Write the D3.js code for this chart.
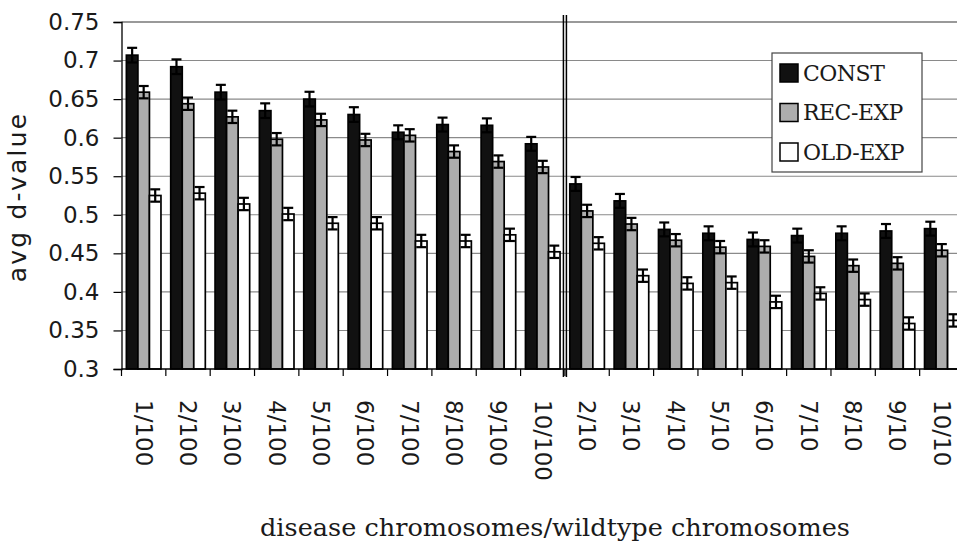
<!DOCTYPE html>
<html>
<head>
<meta charset="utf-8">
<script src="https://cdn.jsdelivr.net/npm/d3@7"></script>
<style>
  body { margin: 0; background: #fff; }
  svg { display: block; }
</style>
</head>
<body>
<script>
var categories = ["1/100", "2/100", "3/100", "4/100", "5/100", "6/100", "7/100", "8/100", "9/100", "10/100",
	"2/10", "3/10", "4/10", "5/10", "6/10", "7/10", "8/10", "9/10", "10/10"];
var seriesNames = ["CONST", "REC-EXP", "OLD-EXP"];
var constVals = [0.707, 0.692, 0.659, 0.635, 0.650, 0.630, 0.607, 0.617, 0.616, 0.592,
	0.540, 0.518, 0.481, 0.476, 0.468, 0.473, 0.476, 0.479, 0.482];
var recVals = [0.659, 0.644, 0.627, 0.598, 0.623, 0.597, 0.603, 0.582, 0.569, 0.562,
	0.505, 0.488, 0.467, 0.458, 0.459, 0.446, 0.434, 0.437, 0.454];
var oldVals = [0.525, 0.528, 0.514, 0.501, 0.489, 0.489, 0.466, 0.466, 0.474, 0.452,
	0.463, 0.421, 0.411, 0.412, 0.387, 0.398, 0.390, 0.359, 0.363];
var constErr = [0.0095, 0.0095, 0.0095, 0.0095, 0.0095, 0.0095, 0.009, 0.009, 0.009, 0.009,
	0.009, 0.009, 0.009, 0.009, 0.009, 0.009, 0.009, 0.009, 0.009];
var recErr = [0.008, 0.008, 0.008, 0.008, 0.008, 0.008, 0.008, 0.008, 0.008, 0.008,
	0.008, 0.008, 0.008, 0.008, 0.008, 0.008, 0.008, 0.008, 0.008];
var oldErr = [0.008, 0.008, 0.008, 0.008, 0.008, 0.008, 0.008, 0.008, 0.008, 0.008,
	0.008, 0.008, 0.008, 0.008, 0.008, 0.008, 0.008, 0.008, 0.008];
var yTicks = [0.3, 0.35, 0.4, 0.45, 0.5, 0.55, 0.6, 0.65, 0.7, 0.75];

var fills = ["#111", "#adadad", "#fff"];

var w = 957, h = 542;
var plotLeft = 121.5, plotRight = 964, plotTop = 22, plotBottom = 369;

var svg = d3.select("body").append("svg")
	.attr("width", w)
	.attr("height", h)
	.style("overflow", "hidden");

var x0 = d3.scaleBand().domain(categories).range([plotLeft, plotRight]).paddingInner(0.22).paddingOuter(0.11);
var x1 = d3.scaleBand().domain(seriesNames).range([0, x0.bandwidth()]);
var y = d3.scaleLinear().domain([0.3, 0.75]).range([plotBottom, plotTop]);

var rows = categories.map(function (c, i) {
	return {
		cat: c,
		vals: [
			{ s: "CONST", v: constVals[i], e: constErr[i], f: fills[0] },
			{ s: "REC-EXP", v: recVals[i], e: recErr[i], f: fills[1] },
			{ s: "OLD-EXP", v: oldVals[i], e: oldErr[i], f: fills[2] }
		]
	};
});

// gridlines
svg.append("g").selectAll("line")
	.data(yTicks.slice(1))
	.enter().append("line")
	.attr("x1", plotLeft).attr("x2", plotRight)
	.attr("y1", function (d) { return y(d); })
	.attr("y2", function (d) { return y(d); })
	.attr("stroke", function (d) { return d === 0.75 ? "#777" : "#8a8a8a"; })
	.attr("stroke-width", function (d) { return d === 0.75 ? 1.6 : 1.1; });

// bars
var groups = svg.append("g").selectAll("g")
	.data(rows)
	.enter().append("g")
	.attr("transform", function (d) { return "translate(" + x0(d.cat) + ",0)"; });

groups.selectAll("rect")
	.data(function (d) { return d.vals; })
	.enter().append("rect")
	.attr("x", function (d) { return x1(d.s); })
	.attr("y", function (d) { return y(d.v); })
	.attr("width", x1.bandwidth())
	.attr("height", function (d) { return y(0.3) - y(d.v); })
	.attr("fill", function (d) { return d.f; })
	.attr("stroke", "#000")
	.attr("stroke-width", 1.7);

// error bars
var capW = 5;
var eb = groups.selectAll("g.err")
	.data(function (d) { return d.vals; })
	.enter().append("g")
	.attr("class", "err")
	.attr("stroke", "#000")
	.attr("stroke-width", 2.2);

eb.append("line")
	.attr("x1", function (d) { return x1(d.s) + x1.bandwidth() / 2; })
	.attr("x2", function (d) { return x1(d.s) + x1.bandwidth() / 2; })
	.attr("y1", function (d) { return y(d.v + d.e); })
	.attr("y2", function (d) { return y(d.v - d.e); });
eb.append("line")
	.attr("x1", function (d) { return x1(d.s) + x1.bandwidth() / 2 - capW; })
	.attr("x2", function (d) { return x1(d.s) + x1.bandwidth() / 2 + capW; })
	.attr("y1", function (d) { return y(d.v + d.e); })
	.attr("y2", function (d) { return y(d.v + d.e); });
eb.append("line")
	.attr("x1", function (d) { return x1(d.s) + x1.bandwidth() / 2 - capW; })
	.attr("x2", function (d) { return x1(d.s) + x1.bandwidth() / 2 + capW; })
	.attr("y1", function (d) { return y(d.v - d.e); })
	.attr("y2", function (d) { return y(d.v - d.e); });

// y axis
var yAxis = d3.axisLeft(y).tickValues(yTicks).tickSize(8).tickPadding(14)
	.tickFormat(function (d) { return String(+d.toFixed(2)); });
var gy = svg.append("g").attr("transform", "translate(" + plotLeft + ",0)").call(yAxis);
gy.select(".domain").attr("stroke", "#000").attr("stroke-width", 1.3);
gy.selectAll(".tick line").attr("stroke", "#000").attr("stroke-width", 1.2);
gy.selectAll("text")
	.attr("fill", "#1a1a1a")
	.style("font-family", "DejaVu Sans")
	.style("font-size", "23px");

// x axis
var gx = svg.append("g").attr("transform", "translate(0," + plotBottom + ")")
	.call(d3.axisBottom(x0).tickSize(0));
gx.select(".domain").remove();
gx.append("line").attr("x1", plotLeft).attr("x2", plotRight).attr("stroke", "#000").attr("stroke-width", 1.3);
var step = x0.step();
var bounds = categories.map(function (c) { return x0(c) - step * x0.paddingInner() / 2; });
bounds.push(plotRight);
gx.selectAll("line.bt")
	.data(bounds)
	.enter().append("line")
	.attr("class", "bt")
	.attr("x1", function (d) { return d; }).attr("x2", function (d) { return d; })
	.attr("y1", 0).attr("y2", 7)
	.attr("stroke", "#000").attr("stroke-width", 1.2);
gx.selectAll(".tick text")
	.attr("transform", "rotate(90)")
	.attr("x", 31)
	.attr("y", 0)
	.attr("dy", "0.35em")
	.attr("text-anchor", "start")
	.attr("fill", "#1a1a1a")
	.style("font-family", "DejaVu Sans")
	.style("font-size", "23px");

// group separator (double line)
var sep = x0("2/10") - step * x0.paddingInner() / 2;
[-1.5, 1.5].forEach(function (off) {
	svg.append("line")
		.attr("x1", sep + off).attr("x2", sep + off)
		.attr("y1", 15).attr("y2", plotBottom + 8)
		.attr("stroke", "#000").attr("stroke-width", 1.5);
});

// axis titles
svg.append("text")
	.attr("transform", "translate(26,197) rotate(-90)")
	.attr("text-anchor", "middle")
	.attr("fill", "#1a1a1a")
	.style("font-family", "DejaVu Sans")
	.style("font-size", "25px")
	.style("letter-spacing", "2.2px")
	.text("avg d-value");

svg.append("text")
	.attr("x", 260)
	.attr("y", 536)
	.attr("textLength", 590)
	.attr("lengthAdjust", "spacingAndGlyphs")
	.attr("fill", "#1a1a1a")
	.style("font-family", "DejaVu Serif")
	.style("font-size", "25px")
	.text("disease chromosomes/wildtype chromosomes");

// legend
var lg = svg.append("g").attr("transform", "translate(772,53)");
lg.append("rect").attr("width", 150).attr("height", 119)
	.attr("fill", "#fff").attr("stroke", "#444").attr("stroke-width", 1.2);
var items = lg.selectAll("g.item")
	.data(seriesNames)
	.enter().append("g")
	.attr("class", "item")
	.attr("transform", function (d, i) { return "translate(8," + (11 + i * 39.5) + ")"; });
items.append("rect")
	.attr("width", 18).attr("height", 18)
	.attr("fill", function (d, i) { return fills[i]; })
	.attr("stroke", "#000").attr("stroke-width", 1.5);
items.append("text")
	.attr("x", 23).attr("y", 9).attr("dy", "0.36em")
	.attr("fill", "#1a1a1a")
	.style("font-family", "DejaVu Serif")
	.style("font-size", "22px")
	.style("letter-spacing", "-0.5px")
	.text(function (d) { return d; });
</script>
</body>
</html>
